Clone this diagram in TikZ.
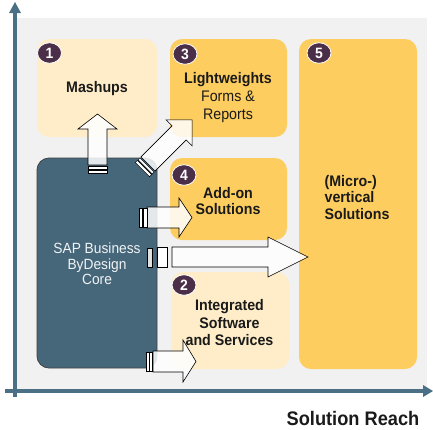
\documentclass[tikz,border=0pt]{standalone}
\usepackage{fontspec}
\setmainfont{Liberation Sans}
\newfontfamily\lblfont[FakeStretch=0.93]{Liberation Sans}
\definecolor{bggray}{HTML}{F1F1F1}
\definecolor{lightyel}{HTML}{FEEDC8}
\definecolor{goldbox}{HTML}{FDCD5F}
\definecolor{coreblue}{HTML}{46677A}
\definecolor{axisblue}{HTML}{4B7085}
\definecolor{plum}{HTML}{4B2E48}
\definecolor{txt}{HTML}{1A1A1A}
\tikzset{
  box/.style={rounded corners=12pt, draw=none, inner sep=0pt},
  numc/.style={ellipse, fill=plum, draw=white, line width=0.8pt, minimum width=24pt, minimum height=20.5pt, inner sep=0pt, text=white, font=\lblfont\fontsize{15}{15}\selectfont\bfseries},
  lbl/.style={align=center, text=txt, inner sep=0pt},
  barrow/.style={fill=white, fill opacity=0.85, draw=black, line width=0.6pt, line join=miter},
  stripe/.style={fill=white, draw=black, line width=0.5pt},
}
\usetikzlibrary{shapes.geometric}
\begin{document}
\begin{tikzpicture}[x=1pt,y=-1pt]
\useasboundingbox (0,0) rectangle (433,429);
% background
\fill[bggray] (17,18) rectangle (427,389);
% axes
\draw[axisblue, line width=4pt] (15,397) -- (15,12);
\fill[axisblue] (15,2) -- (21,13) -- (9,13) -- cycle;
\draw[axisblue, line width=4pt] (5,391) -- (424,391);
\fill[axisblue] (433,391) -- (423,385) -- (423,397) -- cycle;
% boxes
\node[box, fill=lightyel, minimum width=120pt, minimum height=98pt] (b1) at (97,88) {};
\node[box, fill=goldbox, minimum width=117pt, minimum height=98pt] (b3) at (228.5,88) {};
\node[box, fill=goldbox, minimum width=118pt, minimum height=330pt] (b5) at (358,204) {};
\node[box, fill=goldbox, minimum width=117pt, minimum height=82pt] (b4) at (228.5,199) {};
\node[box, fill=lightyel, minimum width=118pt, minimum height=97pt] (b2) at (230,320.5) {};
\node[box, fill=coreblue, draw=black!75, line width=0.8pt, minimum width=120pt, minimum height=210pt] (core) at (97,263) {};
% number circles
\node[numc] (n1) at (49.5,53) {1};
\node[numc] (n3) at (185,54) {3};
\node[numc] (n5) at (319,53) {5};
\node[numc] (n4) at (184,175) {4};
\node[numc] (n2) at (184,285) {2};
% labels
\node[lbl, font=\lblfont\fontsize{15.3}{17}\selectfont\bfseries] (t1) at (97,89) {Mashups};
\node[lbl, font=\lblfont\fontsize{15.3}{18}\selectfont] (t3) at (228,98) {\textbf{Lightweights}\\Forms \&\\Reports};
\node[lbl, font=\lblfont\fontsize{15.3}{16}\selectfont\bfseries] (t4) at (228,201.5) {Add-on\\Solutions};
\node[lbl, align=left, font=\lblfont\fontsize{15.3}{16.5}\selectfont\bfseries] (t5) at (357,197.5) {(Micro-)\\vertical\\Solutions};
\node[lbl, font=\lblfont\fontsize{15.3}{17.5}\selectfont\bfseries] (t2) at (229.5,323) {Integrated\\Software\\and Services};
\node[lbl, text=white!92!coreblue, font=\lblfont\fontsize{14.8}{15.5}\selectfont] (tc) at (97,264) {SAP Business\\ByDesign\\Core};
\node[lbl, font=\lblfont\fontsize{19.6}{20}\selectfont\bfseries] (axl) at (353,418) {Solution Reach};
% arrows
% up to Mashups
\draw[barrow] (88,165) -- (88,129) -- (78,129) -- (97.5,114) -- (117,129) -- (107,129) -- (107,165) -- cycle;
\draw[stripe] (88,166) rectangle (107,169);
\draw[stripe] (88,170) rectangle (107,173);
% diagonal to Lightweights
\begin{scope}[shift={(148,164)}, rotate=45]
\draw[barrow] (0,-10) -- (44,-10) -- (44,-18.4) -- (62.4,0) -- (44,18.4) -- (44,10) -- (0,10) -- cycle;
\draw[stripe] (-4,-10) rectangle (-1.5,10);
\draw[stripe] (-8,-10) rectangle (-5,10);
\end{scope}
% to Add-on
\draw[barrow] (147,207) -- (179,207) -- (179,198) -- (192,217.5) -- (179,237) -- (179,228) -- (147,228) -- cycle;
\draw[stripe] (139,208) rectangle (142,227);
\draw[stripe] (143,208) rectangle (147,227);
% big arrow to vertical solutions
\draw[barrow] (172,247) -- (268,247) -- (268,237) -- (308,257) -- (268,277) -- (268,267) -- (172,267) -- cycle;
\draw[stripe] (157,247) rectangle (167,267);
\draw[stripe, fill=black!12] (147,248) rectangle (152,267);
% to Integrated
\draw[barrow] (153,351) -- (183,351) -- (183,340) -- (196,361.5) -- (183,382) -- (183,372) -- (153,372) -- cycle;
\draw[stripe] (146,352) rectangle (149,371);
\draw[stripe] (149.5,352) rectangle (152.5,371);
\end{tikzpicture}
\end{document}
